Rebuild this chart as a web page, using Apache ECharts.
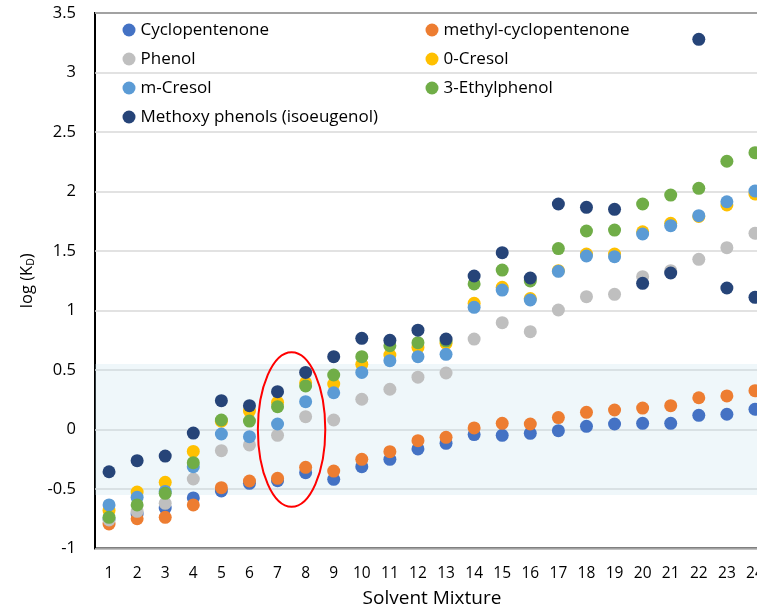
<!DOCTYPE html>
<html>
<head>
<meta charset="utf-8">
<script src="https://cdn.jsdelivr.net/npm/echarts@6/dist/echarts.min.js"></script>
<style>
html,body{margin:0;padding:0;background:#fff;}
#chart{width:757px;height:614px;}
</style>
</head>
<body>
<div id="chart"></div>
<script>
var categories = ['1','2','3','4','5','6','7','8','9','10','11','12','13','14','15','16','17','18','19','20','21','22','23','24'];

var cyclopentenone = [-0.75, -0.71, -0.66, -0.575, -0.517, -0.452, -0.43, -0.363, -0.419, -0.312, -0.251, -0.163, -0.116, -0.043, -0.049, -0.032, -0.01, 0.027, 0.046, 0.052, 0.052, 0.119, 0.128, 0.17];
var methylCyclopentenone = [-0.794, -0.75, -0.738, -0.634, -0.489, -0.433, -0.41, -0.318, -0.349, -0.251, -0.186, -0.094, -0.066, 0.013, 0.052, 0.046, 0.1, 0.144, 0.164, 0.18, 0.2, 0.267, 0.282, 0.326];
var phenol = [-0.76, -0.688, -0.62, -0.416, -0.178, -0.13, -0.049, 0.108, 0.08, 0.254, 0.338, 0.44, 0.475, 0.76, 0.898, 0.822, 1.004, 1.116, 1.136, 1.284, 1.335, 1.43, 1.528, 1.649];
var oCresol = [-0.68, -0.525, -0.444, -0.184, 0.07, 0.155, 0.228, 0.393, 0.382, 0.548, 0.626, 0.69, 0.724, 1.06, 1.195, 1.1, 1.335, 1.475, 1.475, 1.662, 1.733, 1.79, 1.887, 1.979];
var mCresol = [-0.634, -0.57, -0.52, -0.312, -0.038, -0.06, 0.046, 0.234, 0.309, 0.48, 0.578, 0.612, 0.632, 1.027, 1.172, 1.088, 1.329, 1.458, 1.452, 1.643, 1.713, 1.797, 1.914, 2.004];
var ethylphenol = [-0.738, -0.634, -0.536, -0.279, 0.08, 0.071, 0.192, 0.366, 0.458, 0.612, 0.704, 0.73, 0.745, 1.223, 1.34, 1.248, 1.52, 1.668, 1.676, 1.895, 1.97, 2.027, 2.254, 2.326];
var methoxy = [-0.355, -0.262, -0.223, -0.03, 0.242, 0.2, 0.318, 0.48, 0.612, 0.766, 0.75, 0.835, 0.76, 1.29, 1.486, 1.273, 1.895, 1.867, 1.85, 1.228, 1.315, 3.279, 1.189, 1.111];

var seriesNames = ['Cyclopentenone','methyl-cyclopentenone','Phenol','0-Cresol','m-Cresol','3-Ethylphenol','Methoxy phenols (isoeugenol)'];
var seriesColors = ['#4472C4','#ED7D31','#BFBFBF','#FFC000','#5B9BD5','#70AD47','#264478'];
var seriesData = [cyclopentenone, methylCyclopentenone, phenol, oCresol, mCresol, ethylphenol, methoxy];

// shaded band (y range) and highlighted ellipse (category range, y range)
var bandRange = [-0.55, 0.55];
var ellipseX = [6.3, 8.7];
var ellipseY = [-0.65, 0.65];

var FONT = 'Open Sans';
var chart = echarts.init(document.getElementById('chart'), null, {renderer: 'canvas'});

var series = seriesData.map(function (d, i) {
  return {
    name: seriesNames[i],
    type: 'scatter',
    data: d,
    symbol: 'circle',
    symbolSize: 13,
    z: 2,
    itemStyle: {color: seriesColors[i], opacity: 1},
    emphasis: {disabled: true}
  };
});
series.push({
  name: 'band',
  type: 'scatter',
  data: [],
  z: 5,
  silent: true,
  markArea: {
    silent: true,
    itemStyle: {color: 'rgba(190,225,235,0.25)'},
    data: [[{yAxis: bandRange[0]}, {yAxis: bandRange[1]}]]
  }
});

var legendText = {color: '#000', fontFamily: FONT, fontSize: 17, lineHeight: 20};

chart.setOption({
  animation: false,
  backgroundColor: '#fff',
  textStyle: {fontFamily: FONT},
  grid: {
    left: 95, top: 13, width: 674, height: 535.5,
    outerBoundsMode: 'none',
    containLabel: false,
    show: true, borderColor: '#000', borderWidth: 2, backgroundColor: 'transparent'
  },
  legend: [
    {
      data: [seriesNames[0], seriesNames[2], seriesNames[4], seriesNames[6]],
      orient: 'vertical', left: 122.5, top: 20,
      icon: 'circle', itemWidth: 13, itemHeight: 13, itemGap: 9,
      textStyle: legendText, padding: 0, selectedMode: false
    },
    {
      data: [seriesNames[1], seriesNames[3], seriesNames[5]],
      orient: 'vertical', left: 425.5, top: 20,
      icon: 'circle', itemWidth: 13, itemHeight: 13, itemGap: 9,
      textStyle: legendText, padding: 0, selectedMode: false
    }
  ],
  xAxis: {
    type: 'category',
    data: categories,
    boundaryGap: true,
    name: 'Solvent Mixture',
    nameLocation: 'middle',
    nameGap: 41,
    nameTextStyle: {color: '#000', fontSize: 19, fontFamily: FONT},
    axisLine: {show: false},
    axisTick: {show: false},
    axisLabel: {color: '#000', fontSize: 15.5, margin: 17, interval: 0, fontFamily: FONT},
    splitLine: {show: false}
  },
  yAxis: {
    type: 'value',
    min: -1, max: 3.5, interval: 0.5,
    name: '{a|log (K}{b|D}{a|)}',
    nameLocation: 'middle',
    nameRotate: 90,
    nameGap: 58,
    nameTextStyle: {
      color: '#000', fontFamily: FONT,
      rich: {
        a: {fontSize: 16.5, color: '#000', fontFamily: FONT, lineHeight: 20},
        b: {fontSize: 10.5, color: '#000', fontFamily: FONT, padding: [8, 0, 0, 0], lineHeight: 20}
      }
    },
    axisLine: {show: false},
    axisTick: {show: false},
    axisLabel: {color: '#000', fontSize: 16.5, margin: 19, fontFamily: FONT},
    splitLine: {show: true, lineStyle: {color: '#D9D9D9', width: 1.5}}
  },
  series: series
});

// ellipse annotation placed through the axes
var p1 = chart.convertToPixel({xAxisIndex: 0}, categories[0]);
var p2 = chart.convertToPixel({xAxisIndex: 0}, categories[1]);
var band = p2 - p1;
var xL = p1 + (ellipseX[0] - 1) * band;
var xR = p1 + (ellipseX[1] - 1) * band;
var yT = chart.convertToPixel({yAxisIndex: 0}, ellipseY[1]);
var yB = chart.convertToPixel({yAxisIndex: 0}, ellipseY[0]);
chart.setOption({
  graphic: [{
    type: 'ellipse',
    z: 100,
    silent: true,
    shape: {cx: (xL + xR) / 2, cy: (yT + yB) / 2, rx: (xR - xL) / 2, ry: (yB - yT) / 2},
    style: {fill: 'none', stroke: '#FF0000', lineWidth: 2}
  }]
});
</script>
</body>
</html>
